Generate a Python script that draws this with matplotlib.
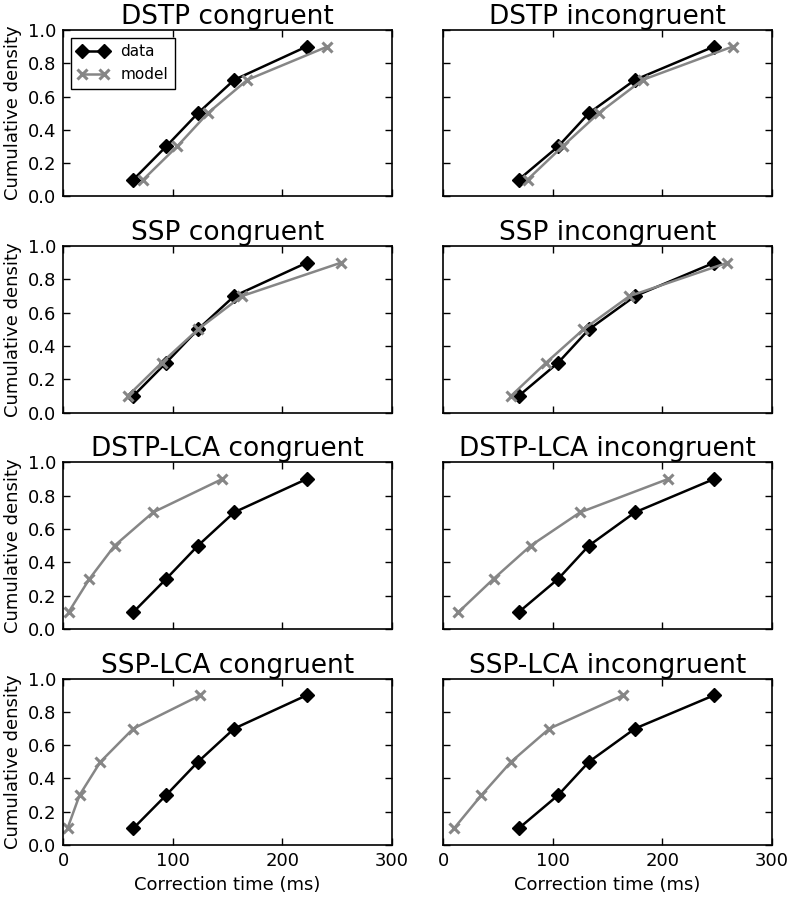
import matplotlib
matplotlib.use("Agg")
import matplotlib.pyplot as plt

quantiles = [0.1, 0.3, 0.5, 0.7, 0.9]

data_congruent = [64, 94, 123, 156, 222]
data_incongruent = [69, 105, 133, 175, 247]

model_dstp_con = [73, 104, 132, 168, 241]
model_dstp_inc = [77, 109, 142, 182, 264]
model_ssp_con = [59, 90, 123, 163, 253]
model_ssp_inc = [62, 94, 128, 170, 259]
model_dstplca_con = [5, 24, 47, 82, 145]
model_dstplca_inc = [14, 46, 80, 125, 205]
model_ssplca_con = [4, 15, 34, 64, 125]
model_ssplca_inc = [10, 35, 62, 97, 164]

titles = ["DSTP congruent", "DSTP incongruent",
          "SSP congruent", "SSP incongruent",
          "DSTP-LCA congruent", "DSTP-LCA incongruent",
          "SSP-LCA congruent", "SSP-LCA incongruent"]
models = [model_dstp_con, model_dstp_inc, model_ssp_con, model_ssp_inc,
          model_dstplca_con, model_dstplca_inc, model_ssplca_con, model_ssplca_inc]
datas = [data_congruent, data_incongruent] * 4

xticks = [0, 100, 200, 300]
yticks = [0.0, 0.2, 0.4, 0.6, 0.8, 1.0]

plt.rcParams['font.family'] = ['DejaVu Sans']
fig, axes = plt.subplots(4, 2, figsize=(7.89, 9.0), dpi=100)
fig.subplots_adjust(left=0.080, right=0.9785, top=0.9667, bottom=0.0611,
                    wspace=0.155, hspace=0.30)

for i, ax in enumerate(axes.flat):
    ax.plot(datas[i], quantiles, color='black', marker='D', markersize=7,
            linewidth=1.8, label='data')
    ax.plot(models[i], quantiles, color='#868686', marker='x', markersize=7,
            markeredgewidth=2.2, linewidth=1.8, label='model')
    ax.set_xlim(0, 300)
    ax.set_ylim(0, 1.0)
    ax.set_xticks(xticks)
    ax.set_yticks(yticks)
    ax.tick_params(direction='in', top=True, right=True, length=5, width=1,
                   labelsize=13, pad=5)
    for s in ax.spines.values():
        s.set_linewidth(1.2)
    ax.set_title(titles[i], fontsize=19, pad=4)
    row, col = divmod(i, 2)
    if col == 0:
        ax.set_ylabel('Cumulative density', fontsize=13)
        ax.set_yticklabels([f"{v:.1f}" for v in yticks])
    else:
        ax.set_yticklabels([])
    if row == 3:
        ax.set_xlabel('Correction time (ms)', fontsize=13)
        ax.set_xticklabels([str(v) for v in xticks])
    else:
        ax.set_xticklabels([])

leg = axes[0, 0].legend(loc='upper left', numpoints=2, fontsize=11,
                        fancybox=False, framealpha=1, edgecolor='black',
                        handlelength=2.0, borderpad=0.45, borderaxespad=0.5)
leg.get_frame().set_linewidth(1.0)

fig.savefig('out.png', dpi=100, facecolor='white')
